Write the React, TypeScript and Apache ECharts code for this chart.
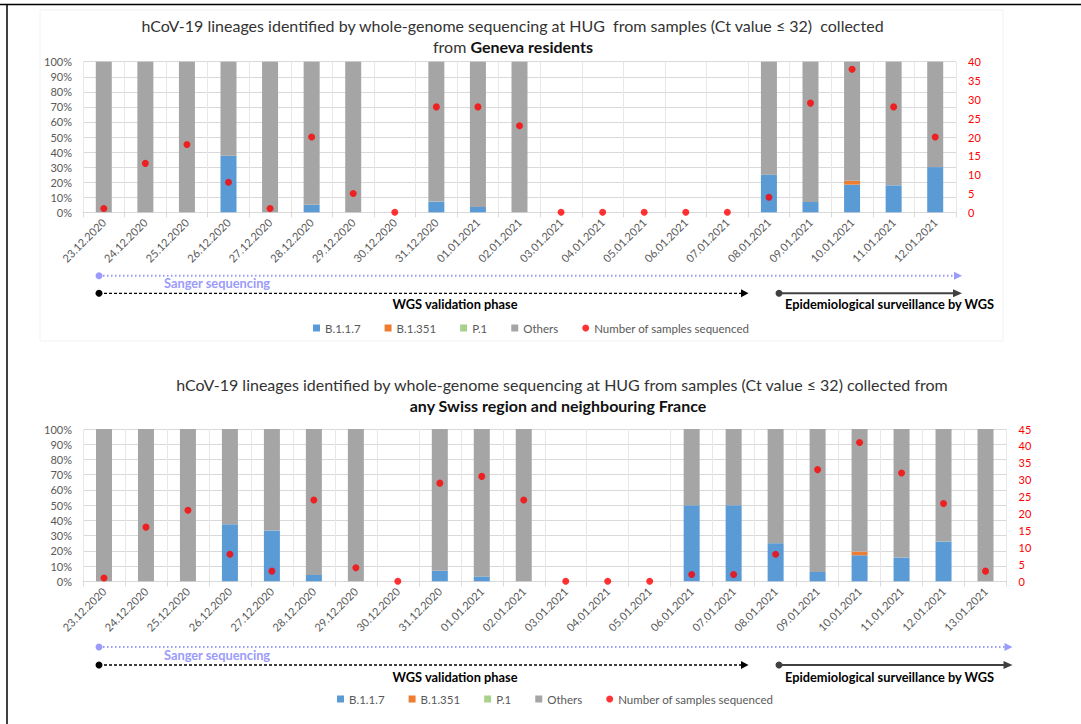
import React, { useEffect, useRef } from "react";
import * as echarts from "echarts";

const datesTop = [
  "23.12.2020", "24.12.2020", "25.12.2020", "26.12.2020", "27.12.2020", "28.12.2020", "29.12.2020",
  "30.12.2020", "31.12.2020", "01.01.2021", "02.01.2021", "03.01.2021", "04.01.2021", "05.01.2021",
  "06.01.2021", "07.01.2021", "08.01.2021", "09.01.2021", "10.01.2021", "11.01.2021", "12.01.2021",
];
const datesBottom = [
  "23.12.2020", "24.12.2020", "25.12.2020", "26.12.2020", "27.12.2020", "28.12.2020", "29.12.2020",
  "30.12.2020", "31.12.2020", "01.01.2021", "02.01.2021", "03.01.2021", "04.01.2021", "05.01.2021",
  "06.01.2021", "07.01.2021", "08.01.2021", "09.01.2021", "10.01.2021", "11.01.2021", "12.01.2021",
  "13.01.2021",
];

// Top chart: Geneva residents (percent of sequenced samples)
const topB117 = [0, 0, 0, 37.5, 0, 5, 0, null, 7.1, 3.6, 0, null, null, null, null, null, 25, 6.9, 18.4, 17.9, 30];
const topB1351 = [0, 0, 0, 0, 0, 0, 0, null, 0, 0, 0, null, null, null, null, null, 0, 0, 2.6, 0, 0];
const topP1 = [0, 0, 0, 0, 0, 0, 0, null, 0, 0, 0, null, null, null, null, null, 0, 0, 0, 0, 0];
const topOthers = [100, 100, 100, 62.5, 100, 95, 100, null, 92.9, 96.4, 100, null, null, null, null, null, 75, 93.1, 79, 82.1, 70];
const topCounts = [1, 13, 18, 8, 1, 20, 5, 0, 28, 28, 23, 0, 0, 0, 0, 0, 4, 29, 38, 28, 20];

// Bottom chart: any Swiss region and neighbouring France
const botB117 = [0, 0, 0, 37.5, 33.3, 4.2, 0, null, 6.9, 3.2, 0, null, null, null, 50, 50, 25, 6.1, 17.1, 15.6, 26.1, 0];
const botB1351 = [0, 0, 0, 0, 0, 0, 0, null, 0, 0, 0, null, null, null, 0, 0, 0, 0, 2.4, 0, 0, 0];
const botP1 = [0, 0, 0, 0, 0, 0, 0, null, 0, 0, 0, null, null, null, 0, 0, 0, 0, 0, 0, 0, 0];
const botOthers = [100, 100, 100, 62.5, 66.7, 95.8, 100, null, 93.1, 96.8, 100, null, null, null, 50, 50, 75, 93.9, 80.5, 84.4, 73.9, 100];
const botCounts = [1, 16, 21, 8, 3, 24, 4, 0, 29, 31, 24, 0, 0, 0, 2, 2, 8, 33, 41, 32, 23, 3];

const seriesNames = ["B.1.1.7", "B.1.351", "P.1", "Others", "Number of samples sequenced"];
const seriesColors = ["#5b9bd5", "#ed7d31", "#a9d18e", "#a5a5a5", "#ff0000"];
const legendTextWidths = [35.6, 34, 15.7, 34, 156];

const FONT = "Lato";
const LAV = "#9b9bfa";
const ANN_FONT = `bold 12.8px ${FONT}`;

function annotation(yLav: number, ySanger: number, yBlack: number, yText: number, xEnd: number) {
  return [
    {
      type: "line",
      shape: { x1: 99, y1: yLav, x2: xEnd - 6, y2: yLav },
      style: { stroke: LAV, lineWidth: 2, lineDash: [1.5, 2.5] },
      silent: true,
    },
    { type: "circle", shape: { cx: 99, cy: yLav, r: 3.5 }, style: { fill: LAV }, silent: true },
    {
      type: "polygon",
      shape: { points: [[xEnd - 8, yLav - 4], [xEnd, yLav], [xEnd - 8, yLav + 4]] },
      style: { fill: LAV },
      silent: true,
    },
    {
      type: "text",
      x: 164,
      y: ySanger,
      style: { text: "Sanger sequencing", fill: LAV, font: ANN_FONT, verticalAlign: "middle", align: "left" },
      silent: true,
    },
    {
      type: "line",
      shape: { x1: 99, y1: yBlack, x2: 743, y2: yBlack },
      style: { stroke: "#000", lineWidth: 1.3, lineDash: [3, 2] },
      silent: true,
    },
    { type: "circle", shape: { cx: 99, cy: yBlack, r: 3.5 }, style: { fill: "#000" }, silent: true },
    {
      type: "polygon",
      shape: { points: [[741, yBlack - 4], [748.5, yBlack], [741, yBlack + 4]] },
      style: { fill: "#000" },
      silent: true,
    },
    {
      type: "text",
      x: 455,
      y: yText,
      style: { text: "WGS validation phase", fill: "#000", font: ANN_FONT, verticalAlign: "middle", align: "center" },
      silent: true,
    },
    {
      type: "line",
      shape: { x1: 779, y1: yBlack, x2: xEnd - 6, y2: yBlack },
      style: { stroke: "#404040", lineWidth: 2 },
      silent: true,
    },
    { type: "circle", shape: { cx: 779, cy: yBlack, r: 3.5 }, style: { fill: "#404040" }, silent: true },
    {
      type: "polygon",
      shape: { points: [[xEnd - 9, yBlack - 4], [xEnd, yBlack], [xEnd - 9, yBlack + 4]] },
      style: { fill: "#404040" },
      silent: true,
    },
    {
      type: "text",
      x: 785,
      y: yText,
      style: {
        text: "Epidemiological surveillance by WGS",
        fill: "#000",
        font: ANN_FONT,
        verticalAlign: "middle",
        align: "left",
      },
      silent: true,
    },
  ];
}

function makeSeries(idx: number, b117: any[], b1351: any[], p1: any[], others: any[], counts: number[]) {
  const stack = "s" + idx;
  const bars = [b117, b1351, p1, others].map((d, i) => ({
    name: seriesNames[i],
    type: "bar",
    stack,
    xAxisIndex: idx,
    yAxisIndex: idx * 2,
    barWidth: 16,
    data: d,
    itemStyle: { color: seriesColors[i] },
  }));
  return [
    ...bars,
    {
      name: seriesNames[4],
      type: "scatter",
      xAxisIndex: idx,
      yAxisIndex: idx * 2 + 1,
      symbolSize: 7,
      data: counts,
      itemStyle: { color: seriesColors[4] },
      z: 10,
    },
  ];
}

function xAxis(idx: number, data: string[]) {
  return {
    type: "category",
    gridIndex: idx,
    data,
    boundaryGap: true,
    axisLine: { show: true, lineStyle: { color: "#d9d9d9" } },
    axisTick: { show: true, length: 5, lineStyle: { color: "#d9d9d9" } },
    splitLine: { show: true, lineStyle: { color: "#e7e7e7" } },
    axisLabel: { rotate: 45, color: "#595959", fontSize: 11, fontFamily: FONT, margin: 8, interval: 0 },
  };
}

function yAxes(idx: number, rightMax: number) {
  return [
    {
      type: "value",
      gridIndex: idx,
      min: 0,
      max: 100,
      interval: 10,
      axisLine: { show: false },
      axisTick: { show: false },
      splitLine: { show: true, lineStyle: { color: "#d9d9d9" } },
      axisLabel: { formatter: "{value}%", color: "#595959", fontSize: 11, fontFamily: FONT, margin: 11 },
    },
    {
      type: "value",
      gridIndex: idx,
      position: "right",
      min: 0,
      max: rightMax,
      interval: 5,
      axisLine: { show: false },
      axisTick: { show: false },
      splitLine: { show: false },
      axisLabel: { color: "#ff0000", fontSize: 11, fontFamily: FONT, margin: 12 },
    },
  ];
}

function legend(left: number, top: number) {
  return {
    left,
    top,
    padding: 0,
    itemWidth: 7,
    itemHeight: 7,
    itemGap: 24,
    selectedMode: false,
    textStyle: { color: "#595959", fontSize: 11.5, fontFamily: FONT },
    data: seriesNames.map((n, i) => ({
      name: n,
      icon: i === 4 ? "circle" : "rect",
      textStyle: { width: legendTextWidths[i], color: "#595959", fontSize: 11.5, fontFamily: FONT },
    })),
  };
}

export default function App() {
  const ref = useRef<HTMLDivElement>(null);
  useEffect(() => {
    if (!ref.current) return;
    const chart = echarts.init(ref.current, undefined, { renderer: "svg" });
    chart.setOption({
      animation: false,
      backgroundColor: "#ffffff",
      textStyle: { fontFamily: FONT },
      grid: [
        { left: 83, top: 61.7, width: 873, height: 150.6, containLabel: false },
        { left: 83, top: 429, width: 923.5, height: 152.3, containLabel: false },
      ],
      xAxis: [xAxis(0, datesTop), xAxis(1, datesBottom)],
      yAxis: [...yAxes(0, 40), ...yAxes(1, 45)],
      legend: [legend(313, 322), legend(337, 693)],
      series: [
        ...makeSeries(0, topB117, topB1351, topP1, topOthers, topCounts),
        ...makeSeries(1, botB117, botB1351, botP1, botOthers, botCounts),
      ],
      graphic: [
        { type: "line", shape: { x1: 0, y1: 4.5, x2: 1081, y2: 4.5 }, style: { stroke: "#000", lineWidth: 1.5 }, silent: true },
        { type: "line", shape: { x1: 7, y1: 4, x2: 7, y2: 724 }, style: { stroke: "#000", lineWidth: 1.5 }, silent: true },
        {
          type: "rect",
          shape: { x: 40, y: 10, width: 963, height: 331 },
          style: { stroke: "#f2f2f2", fill: "none", lineWidth: 1 },
          silent: true,
          z: -1,
        },
        {
          type: "text",
          x: 512.5,
          y: 25,
          style: {
            text: "hCoV-19 lineages identified by whole-genome sequencing at HUG  from samples (Ct value \u2264 32)  collected",
            fill: "#333",
            font: `16px ${FONT}`,
            align: "center",
            verticalAlign: "middle",
          },
          silent: true,
        },
        {
          type: "text",
          x: 513,
          y: 46.5,
          style: {
            text: "from {b|Geneva residents}",
            fill: "#333",
            font: `16px ${FONT}`,
            align: "center",
            verticalAlign: "middle",
            rich: { b: { fontWeight: "bold", fontSize: 16, fontFamily: FONT, fill: "#111" } },
          },
          silent: true,
        },
        {
          type: "text",
          x: 562,
          y: 384.5,
          style: {
            text: "hCoV-19 lineages identified by whole-genome sequencing at HUG from samples (Ct value \u2264 32) collected from",
            fill: "#333",
            font: `16px ${FONT}`,
            align: "center",
            verticalAlign: "middle",
          },
          silent: true,
        },
        {
          type: "text",
          x: 558,
          y: 405.5,
          style: {
            text: "any Swiss region and neighbouring France",
            fill: "#111",
            font: `bold 16px ${FONT}`,
            align: "center",
            verticalAlign: "middle",
          },
          silent: true,
        },
        ...annotation(275.7, 283.3, 293.3, 304, 962),
        ...annotation(647, 655, 665, 676.5, 1012.5),
      ],
    });
    return () => chart.dispose();
  }, []);
  return <div ref={ref} style={{ position: "absolute", left: 0, top: 0, width: 1081, height: 724 }} />;
}
